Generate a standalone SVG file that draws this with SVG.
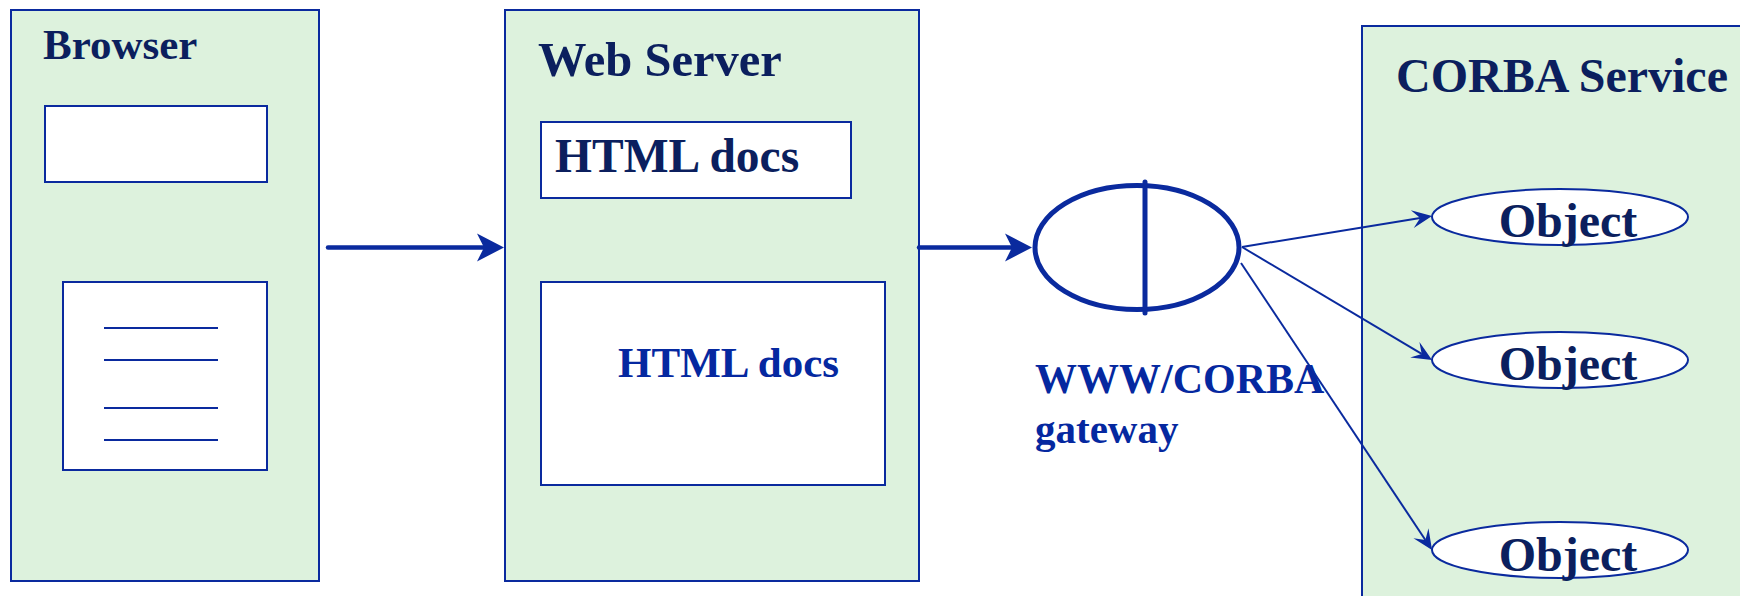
<svg xmlns="http://www.w3.org/2000/svg" width="1740" height="596" viewBox="0 0 1740 596">
<style>
.box{fill:#DDF2DD;stroke:#0A2A9E;stroke-width:2}
.inner{fill:#FFFFFF;stroke:#0A2A9E;stroke-width:2}
.ln{stroke:#0A2A9E;stroke-width:2;fill:none}
.thick{stroke:#0A2A9E;stroke-width:4.5;fill:none;stroke-linecap:round}
.t{font-family:"Liberation Serif","Times New Roman",serif;font-weight:bold;fill:#0B1F5E}
.tb{font-family:"Liberation Serif","Times New Roman",serif;font-weight:bold;fill:#0528A0}
</style>
<defs>
<marker id="big" markerUnits="userSpaceOnUse" markerWidth="60" markerHeight="40" refX="0" refY="0" orient="auto" overflow="visible">
<path d="M-7,-14 L20,0 L-7,14 L0,0 Z" fill="#0A2A9E"/>
</marker>
<marker id="small" markerUnits="userSpaceOnUse" markerWidth="40" markerHeight="30" refX="0" refY="0" orient="auto" overflow="visible">
<path d="M-8,-9 L12,0 L-8,9 L0,0 Z" fill="#0A2A9E"/>
</marker>
</defs>
<rect width="1740" height="596" fill="#FFFFFF"/>

<g id="browser">
<rect class="box" x="11" y="10" width="308" height="571"/>
<text class="t" x="43" y="59" font-size="43">Browser</text>
<rect class="inner" x="45" y="106" width="222" height="76"/>
<rect class="inner" x="63" y="282" width="204" height="188"/>
<line class="ln" x1="104" y1="328" x2="218" y2="328"/>
<line class="ln" x1="104" y1="360" x2="218" y2="360"/>
<line class="ln" x1="104" y1="408" x2="218" y2="408"/>
<line class="ln" x1="104" y1="440" x2="218" y2="440"/>
</g>

<g id="webserver">
<rect class="box" x="505" y="10" width="414" height="571"/>
<text class="t" x="538" y="76" font-size="48.5">Web Server</text>
<rect class="inner" x="541" y="122" width="310" height="76"/>
<text class="t" x="555" y="172" font-size="47.5">HTML docs</text>
<rect class="inner" x="541" y="282" width="344" height="203"/>
<text class="tb" x="618" y="377" font-size="43">HTML docs</text>
</g>

<g id="corba">
<rect class="box" x="1362" y="26" width="400" height="600"/>
<text class="t" x="1396" y="92" font-size="48">CORBA Service</text>
</g>

<g id="object1">
<ellipse class="inner" cx="1560" cy="217" rx="128" ry="28"/>
<text class="t" x="1568" y="237" font-size="48" text-anchor="middle">Object</text>
</g>
<g id="object2">
<ellipse class="inner" cx="1560" cy="360" rx="128" ry="28"/>
<text class="t" x="1568" y="380" font-size="48" text-anchor="middle">Object</text>
</g>
<g id="object3">
<ellipse class="inner" cx="1560" cy="550" rx="128" ry="28"/>
<text class="t" x="1568" y="571" font-size="48" text-anchor="middle">Object</text>
</g>

<g id="gateway">
<ellipse cx="1137" cy="247.5" rx="102" ry="62" fill="#FFFFFF" stroke="#0A2A9E" stroke-width="5"/>
<line x1="1145" y1="182" x2="1145" y2="313" stroke="#0A2A9E" stroke-width="5" stroke-linecap="round"/>
<text class="tb" x="1035" y="393" font-size="42">WWW/CORBA</text>
<text class="tb" x="1035" y="443" font-size="41">gateway</text>
</g>

<g id="connectors">
<line class="thick" x1="328" y1="247.5" x2="484" y2="247.5" marker-end="url(#big)"/>
<line class="thick" x1="919" y1="247.5" x2="1012" y2="247.5" marker-end="url(#big)" stroke-linecap="butt"/>
<line class="ln" x1="1242" y1="247" x2="1420.2" y2="217.9" marker-end="url(#small)"/>
<line class="ln" x1="1242" y1="247" x2="1421.7" y2="353.9" marker-end="url(#small)"/>
<line class="ln" x1="1241" y1="263" x2="1425.4" y2="540" marker-end="url(#small)"/>
</g>
</svg>
